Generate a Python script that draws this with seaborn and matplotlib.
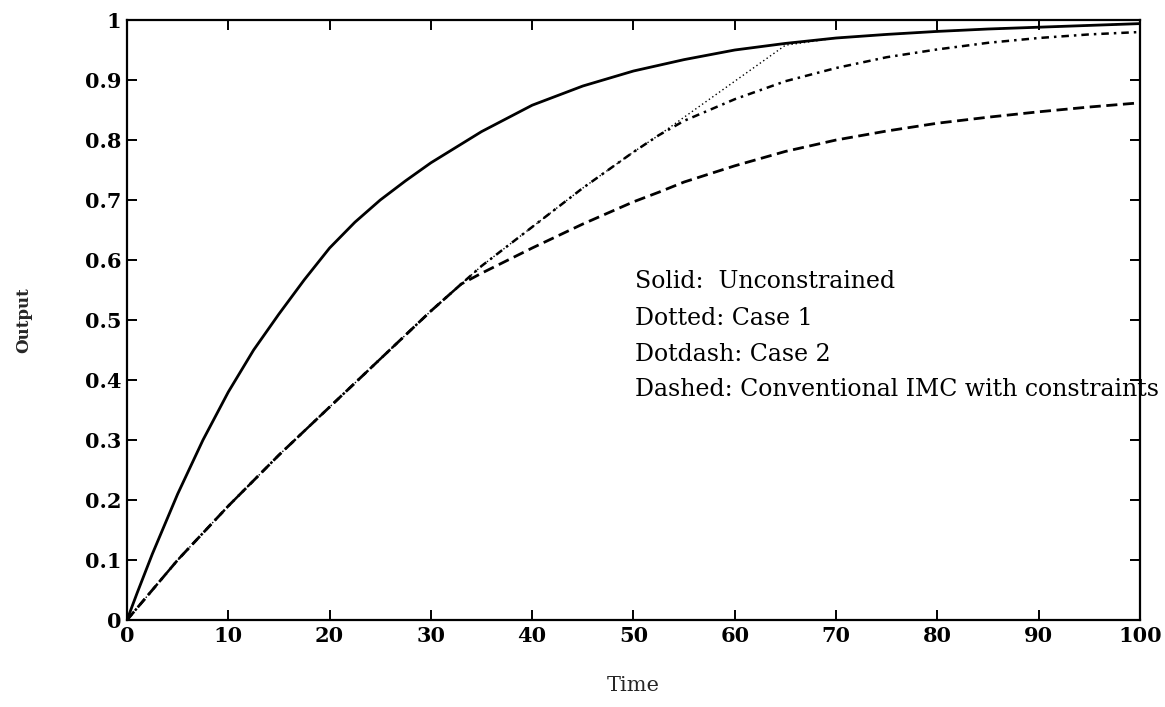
import numpy as np
import pandas as pd
import matplotlib
matplotlib.use("Agg")
import matplotlib.pyplot as plt
import seaborn as sns

# ---- data ----
time_solid = [0, 1, 2.5, 5, 7.5, 10, 12.5, 15, 17.5, 20, 22.5, 25, 27.5, 30,
              35, 40, 45, 50, 55, 60, 65, 70, 75, 80, 85, 90, 95, 100]
solid = [0, 0.045, 0.11, 0.21, 0.30, 0.38, 0.45, 0.51, 0.567, 0.62, 0.663,
         0.70, 0.732, 0.762, 0.814, 0.858, 0.89, 0.915, 0.934, 0.95, 0.961,
         0.97, 0.976, 0.981, 0.985, 0.988, 0.991, 0.994]

time = [0, 2.5, 5, 7.5, 10, 15, 20, 25, 30, 33, 35, 40, 45, 50, 52.5,
        55, 60, 65, 70, 75, 80, 85, 90, 95, 100]
dotted = [0, 0.05, 0.10, 0.145, 0.19, 0.275, 0.355, 0.435, 0.515, 0.56,
          0.59, 0.655, 0.72, 0.78, 0.808, 0.838, 0.898, 0.958, 0.97,
          0.976, 0.981, 0.985, 0.988, 0.991, 0.994]
dotdash = [0, 0.05, 0.10, 0.145, 0.19, 0.275, 0.355, 0.435, 0.515, 0.56,
           0.59, 0.655, 0.72, 0.78, 0.808, 0.832, 0.868, 0.898, 0.92,
           0.938, 0.951, 0.962, 0.97, 0.976, 0.98]
dashed = [0, 0.05, 0.10, 0.145, 0.19, 0.275, 0.355, 0.435, 0.515, 0.56,
          0.578, 0.62, 0.66, 0.697, 0.713, 0.73, 0.757, 0.781, 0.80,
          0.815, 0.828, 0.838, 0.847, 0.855, 0.862]

x_ticks = [0, 10, 20, 30, 40, 50, 60, 70, 80, 90, 100]
x_tick_labels = ["0", "10", "20", "30", "40", "50", "60", "70", "80", "90", "100"]
y_ticks = [0, 0.1, 0.2, 0.3, 0.4, 0.5, 0.6, 0.7, 0.8, 0.9, 1]
y_tick_labels = ["0", "0.1", "0.2", "0.3", "0.4", "0.5", "0.6", "0.7", "0.8", "0.9", "1"]

annotations = ["Solid:  Unconstrained", "Dotted: Case 1", "Dotdash: Case 2",
               "Dashed: Conventional IMC with constraints"]
annotation_y = [0.565, 0.502, 0.443, 0.384]

# ---- plotting ----
sns.set_style("ticks")
plt.rcParams["font.family"] = ["DejaVu Serif"]

fig = plt.figure(figsize=(11.65, 7.07), dpi=100)
ax = fig.add_axes([0.109, 0.123, 0.8695, 0.8487])

df = pd.DataFrame({"Time": time, "dotted": dotted,
                   "dotdash": dotdash, "dashed": dashed})
df_solid = pd.DataFrame({"Time": time_solid, "solid": solid})

sns.lineplot(data=df, x="Time", y="dashed", ax=ax, color="black",
             linewidth=2.0, linestyle=(0, (4, 2)))
sns.lineplot(data=df, x="Time", y="dotdash", ax=ax, color="black",
             linewidth=1.8, linestyle=(0, (3, 2, 1, 2)))
sns.lineplot(data=df, x="Time", y="dotted", ax=ax, color="black",
             linewidth=1.0, linestyle=(0, (1, 2)))
sns.lineplot(data=df_solid, x="Time", y="solid", ax=ax, color="black",
             linewidth=2.0, linestyle="-")

ax.set_xlim(0, 100)
ax.set_ylim(0, 1)
ax.set_xticks(x_ticks)
ax.set_xticklabels(x_tick_labels)
ax.set_yticks(y_ticks)
ax.set_yticklabels(y_tick_labels)

for s in ax.spines.values():
    s.set_visible(True)
    s.set_linewidth(1.6)
    s.set_color("black")

ax.tick_params(direction="in", length=7, width=1.4, top=True, right=True,
               labelsize=15, colors="black", pad=4)
for lab in ax.get_xticklabels() + ax.get_yticklabels():
    lab.set_fontweight("bold")

ax.set_xlabel("Time", fontsize=15, labelpad=22)
ax.set_ylabel("Output", fontsize=12, fontweight="bold", labelpad=38)

for txt, yy in zip(annotations, annotation_y):
    ax.text(50.2, yy, txt, fontsize=17, va="center", ha="left",
            color="black", clip_on=False)

fig.savefig("out.png", dpi=100)
